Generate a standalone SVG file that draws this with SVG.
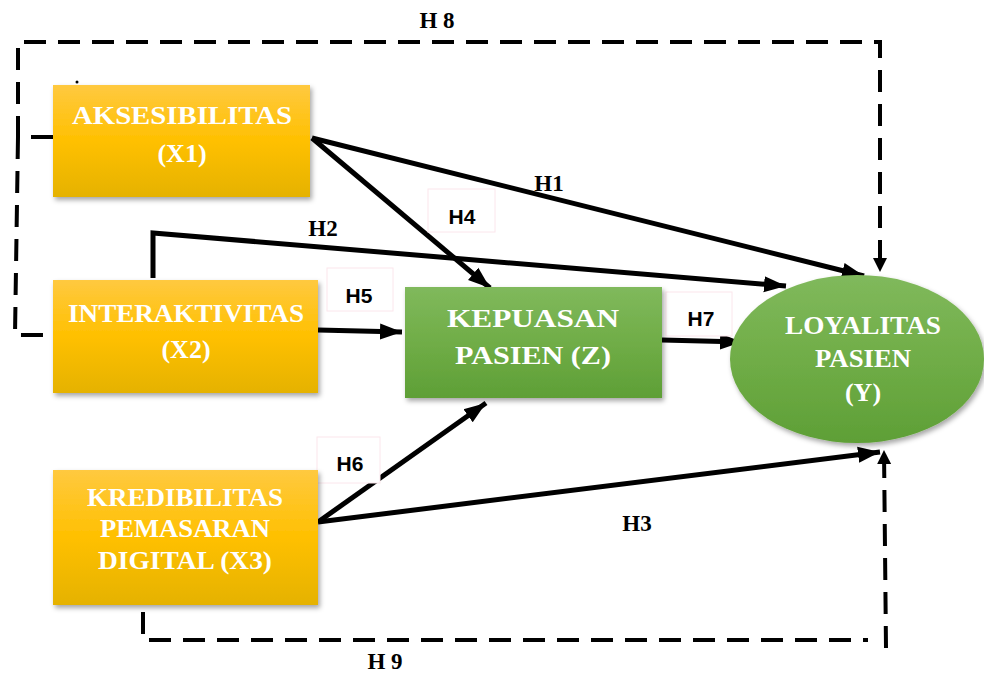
<svg xmlns="http://www.w3.org/2000/svg" width="984" height="676" viewBox="0 0 984 676">
<defs>
<linearGradient id="gOr" x1="0" y1="0" x2="0" y2="1">
<stop offset="0" stop-color="#FFC940"/><stop offset="0.5" stop-color="#FFC000"/><stop offset="1" stop-color="#E5B200"/>
</linearGradient>
<linearGradient id="gGr" x1="0" y1="0" x2="0" y2="1">
<stop offset="0" stop-color="#80B95C"/><stop offset="0.5" stop-color="#70AD47"/><stop offset="1" stop-color="#5E9F36"/>
</linearGradient>
<filter id="sh" x="-10%" y="-10%" width="130%" height="130%">
<feDropShadow dx="2" dy="3" stdDeviation="2.5" flood-color="#000" flood-opacity="0.35"/>
</filter>
<marker id="ah" markerUnits="userSpaceOnUse" markerWidth="24" markerHeight="20" refX="22" refY="10" orient="auto">
<path d="M0,2 L22,10 L0,18 Z" fill="#000"/>
</marker>
<marker id="ahs" markerUnits="userSpaceOnUse" markerWidth="16" markerHeight="16" refX="14" refY="8" orient="auto">
<path d="M0,1 L14,8 L0,15 Z" fill="#000"/>
</marker>
</defs>
<style>
.box{filter:url(#sh);}
.nt{font-family:"Liberation Serif","Times New Roman",serif;font-weight:bold;font-size:26px;fill:#fff;text-anchor:middle;}
.ls{font-family:"Liberation Serif","Times New Roman",serif;font-weight:bold;font-size:23px;fill:#000;text-anchor:middle;}
.la{font-family:"Liberation Sans",Arial,sans-serif;font-weight:bold;font-size:21px;fill:#000;text-anchor:middle;}
.lb{fill:#fff;stroke:#fbe6ec;stroke-width:1;}
.sol{fill:none;stroke:#000;stroke-width:5;}
.dsh{fill:none;stroke:#000;stroke-width:4;stroke-dasharray:22,12;}
</style>

<g id="connectors">
<!-- H8 -->
<path class="dsh" d="M53,137 L18,137 L18,42 L880,42 L880,272" marker-end="url(#ahs)"/>
<path class="dsh" d="M18,137 L15,335 L43,335"/>
<circle cx="77" cy="82" r="1.5" fill="#000"/>
<!-- H9 -->
<path class="dsh" d="M143,612 L143,640 L868,640"/>
<path class="dsh" d="M886,648 L884,450" marker-end="url(#ahs)"/>
<!-- H1 -->
<line class="sol" x1="312" y1="138" x2="864" y2="276" marker-end="url(#ah)"/>
<!-- H4 -->
<line class="sol" x1="312" y1="138" x2="490" y2="288" marker-end="url(#ah)"/>
<!-- H2 -->
<path class="sol" d="M153,278 L153,233 L786,286" marker-end="url(#ah)"/>
<!-- H5 -->
<line class="sol" x1="318" y1="330" x2="402" y2="332" marker-end="url(#ah)"/>
<!-- H7 -->
<line class="sol" x1="662" y1="340" x2="742" y2="342" marker-end="url(#ah)"/>
<!-- H6 -->
<line class="sol" x1="318" y1="522" x2="486" y2="403" marker-end="url(#ah)"/>
<!-- H3 -->
<line class="sol" x1="318" y1="522" x2="880" y2="452" marker-end="url(#ah)"/>
</g>

<g id="labels">
<text class="ls" x="437" y="28">H 8</text>
<text class="ls" x="549" y="191">H1</text>
<text class="ls" x="323" y="236">H2</text>
<rect class="lb" x="428" y="189" width="67" height="43"/>
<text class="la" x="462" y="224">H4</text>
<rect class="lb" x="327" y="268" width="66" height="43"/>
<text class="la" x="359" y="303">H5</text>
<rect class="lb" x="666" y="292" width="66" height="44"/>
<text class="la" x="701" y="326">H7</text>
<rect class="lb" x="317" y="437" width="63" height="46"/>
<text class="la" x="350" y="471">H6</text>
<text class="ls" x="637" y="531">H3</text>
<text class="ls" x="385" y="669" font-size="21">H 9</text>
</g>

<g id="x1">
<rect class="box" x="53" y="85" width="257" height="112" fill="url(#gOr)"/>
<text class="nt" x="182" y="124" textLength="220" lengthAdjust="spacingAndGlyphs">AKSESIBILITAS</text>
<text class="nt" x="182" y="162">(X1)</text>
</g>

<g id="x2">
<rect class="box" x="53" y="280" width="265" height="113" fill="url(#gOr)"/>
<text class="nt" x="186" y="322" textLength="236" lengthAdjust="spacingAndGlyphs">INTERAKTIVITAS</text>
<text class="nt" x="186" y="358">(X2)</text>
</g>

<g id="x3">
<rect class="box" x="53" y="470" width="265" height="135" fill="url(#gOr)"/>
<text class="nt" x="185" y="506" font-size="24" textLength="196" lengthAdjust="spacingAndGlyphs">KREDIBILITAS</text>
<text class="nt" x="185" y="537" font-size="24" textLength="170" lengthAdjust="spacingAndGlyphs">PEMASARAN</text>
<text class="nt" x="185" y="569" font-size="24" textLength="174" lengthAdjust="spacingAndGlyphs">DIGITAL (X3)</text>
</g>

<g id="z">
<rect class="box" x="405" y="287" width="257" height="111" fill="url(#gGr)"/>
<text class="nt" x="533" y="327" textLength="172" lengthAdjust="spacingAndGlyphs">KEPUASAN</text>
<text class="nt" x="533" y="364" textLength="156" lengthAdjust="spacingAndGlyphs">PASIEN (Z)</text>
</g>

<g id="y">
<ellipse class="box" cx="857" cy="359" rx="127" ry="84" fill="url(#gGr)"/>
<text class="nt" x="863" y="334" textLength="156" lengthAdjust="spacingAndGlyphs">LOYALITAS</text>
<text class="nt" x="863" y="367" textLength="96" lengthAdjust="spacingAndGlyphs">PASIEN</text>
<text class="nt" x="863" y="401">(Y)</text>
</g>
</svg>
